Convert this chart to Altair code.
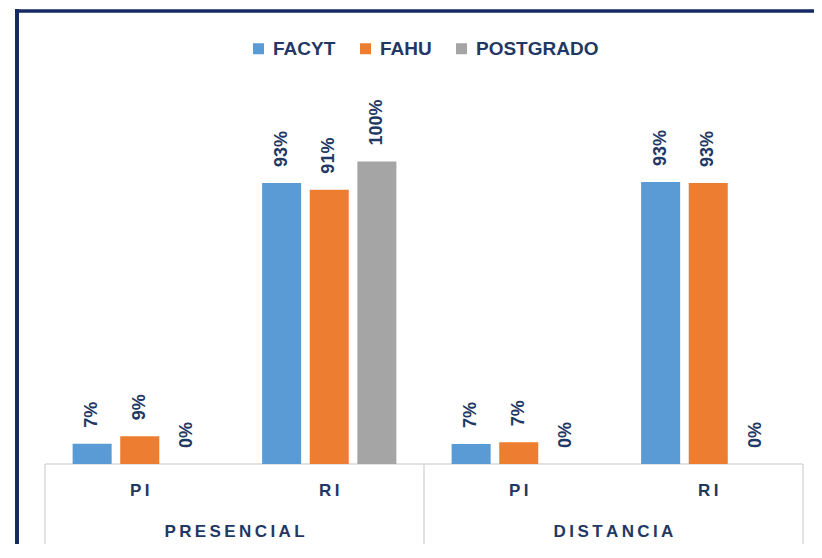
import altair as alt
import pandas as pd

# ---- data ----
modalidad = ["PRESENCIAL", "PRESENCIAL", "DISTANCIA", "DISTANCIA"]
tipo = ["PI", "RI", "PI", "RI"]
series = ["FACYT", "FAHU", "POSTGRADO"]
facyt = [6.7, 92.9, 6.6, 93.2]
fahu = [9.2, 90.7, 7.2, 92.9]
postgrado = [0, 100, 0, 0]
colors = ["#5B9BD5", "#ED7D31", "#A5A5A5"]

NAVY = "#1F3864"
BORDER = "#142A62"
GRID = "#D9D9D9"
FONT = "Liberation Sans"
W, H = 758, 363
PAD = {"left": 37, "top": 93, "right": 11, "bottom": 80}


def spaced(s):
    return "\u2009".join(list(s))


cats = [f"{m}|{t}" for m, t in zip(modalidad, tipo)]
rows = []
for i in range(len(cats)):
    for s, vals in zip(series, [facyt, fahu, postgrado]):
        rows.append({
            "cat": cats[i],
            "serie": s,
            "valor": vals[i],
            "label": f"{round(vals[i])}%",
        })
df = pd.DataFrame(rows)

xscale = alt.Scale(domain=cats, paddingInner=0, paddingOuter=0)
oscale = alt.Scale(domain=series, paddingInner=0.18, paddingOuter=0.58)
yscale = alt.Scale(domain=[0, 120], nice=False)

base = alt.Chart(df)

bars = base.mark_bar().encode(
    x=alt.X("cat:N", scale=xscale, axis=None),
    xOffset=alt.XOffset("serie:N", scale=oscale),
    y=alt.Y("valor:Q", scale=yscale, axis=None),
    color=alt.Color(
        "serie:N",
        scale=alt.Scale(domain=series, range=colors),
        legend=alt.Legend(
            title=None,
            orient="none",
            legendX=204,
            legendY=-62,
            direction="horizontal",
            symbolType="square",
            symbolSize=121,
            symbolStrokeWidth=0,
            labelFont=FONT,
            labelFontSize=19,
            labelFontWeight="bold",
            labelColor=NAVY,
            labelOffset=5,
            columnPadding=20,
        ),
    ),
)

values = base.mark_text(
    angle=270, align="left", baseline="middle", dx=16,
    font=FONT, fontSize=18, fontWeight="bold", color=NAVY,
).encode(
    x=alt.X("cat:N", scale=xscale, axis=None),
    xOffset=alt.XOffset("serie:N", scale=oscale),
    y=alt.Y("valor:Q", scale=yscale, axis=None),
    text="label:N",
)

zero_df = pd.DataFrame({"v": [0]})
baseline = alt.Chart(zero_df).mark_rule(color=GRID, strokeWidth=1.5).encode(
    y=alt.Y("v:Q", scale=yscale, axis=None),
    x=alt.value(0),
    x2=alt.value(W),
)

div_left = alt.Chart(pd.DataFrame({"cat": [cats[0], cats[2]], "v": [0, 0]})).mark_rule(
    color=GRID, strokeWidth=1.5
).encode(
    x=alt.X("cat:N", scale=xscale, axis=None, bandPosition=0),
    y=alt.Y("v:Q", scale=yscale, axis=None),
    y2=alt.value(H + PAD["bottom"]),
)
div_right = alt.Chart(pd.DataFrame({"cat": [cats[3]], "v": [0]})).mark_rule(
    color=GRID, strokeWidth=1.5
).encode(
    x=alt.X("cat:N", scale=xscale, axis=None, bandPosition=1),
    y=alt.Y("v:Q", scale=yscale, axis=None),
    y2=alt.value(H + PAD["bottom"]),
)

tipo_df = pd.DataFrame({"cat": cats, "txt": [spaced(t) for t in tipo]})
tipo_labels = alt.Chart(tipo_df).mark_text(
    font=FONT, fontSize=17, fontWeight="bold", color=NAVY, baseline="middle"
).encode(
    x=alt.X("cat:N", scale=xscale, axis=None),
    y=alt.value(390),
    text="txt:N",
)

grp_df = pd.DataFrame({
    "cat": [cats[1], cats[3]],
    "txt": [spaced("PRESENCIAL"), spaced("DISTANCIA")],
})
grp_labels = alt.Chart(grp_df).mark_text(
    font=FONT, fontSize=17, fontWeight="bold", color=NAVY, baseline="middle"
).encode(
    x=alt.X("cat:N", scale=xscale, axis=None, bandPosition=0),
    y=alt.value(431),
    text="txt:N",
)

# chart-area frame: top and left edges only, running to the edge of the drawing
frame_top = alt.Chart(zero_df).mark_rule(color=BORDER, strokeWidth=3.5).encode(
    x=alt.value(-30),
    x2=alt.value(W + PAD["right"]),
    y=alt.value(-90),
)
frame_left = alt.Chart(zero_df).mark_rule(color=BORDER, strokeWidth=4).encode(
    x=alt.value(-28),
    y=alt.value(-92),
    y2=alt.value(H + PAD["bottom"]),
)

chart = alt.layer(
    frame_top, frame_left, baseline, div_left, div_right, bars, values,
    tipo_labels, grp_labels
).properties(
    width=W,
    height=H,
    padding=PAD,
    autosize=alt.AutoSizeParams(type="none"),
    background="white",
).configure_view(stroke=None)

chart.save("out.html", embed_options={"renderer": "svg", "actions": False})
